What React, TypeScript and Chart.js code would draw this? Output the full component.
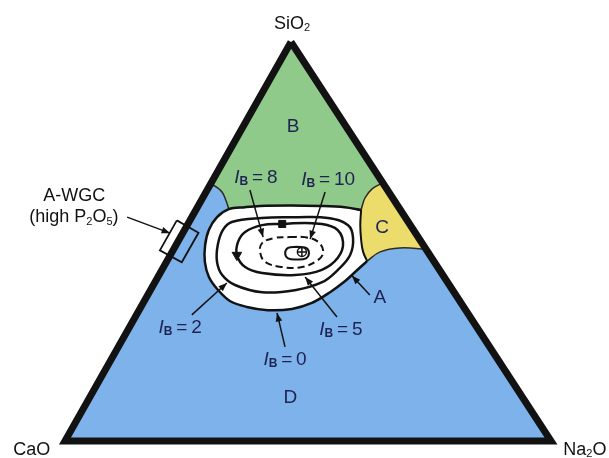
import { useEffect, useRef } from "react";
import { Chart, registerables } from "chart.js";

Chart.register(...registerables);

// Composition triples: [SiO2, CaO, Na2O] (wt %)
type Comp = [number, number, number];

const triangleCorners: Comp[] = [
  [100, 0, 0],
  [0, 100, 0],
  [0, 0, 100],
  [100, 0, 0],
];

// Region boundaries
const greenBlueBoundary: Comp[] = [
  [64.4, 35.6, 0], [63.7, 34.8, 1.5], [62.4, 34.3, 3.3], [60.4, 34.6, 5.0], [58.1, 35.2, 6.7],
];
const whiteTop: Comp[] = [
  [58.1, 35.2, 6.7], [58.6, 31.6, 9.8], [58.9, 28.4, 12.7], [59.0, 22.1, 18.9],
  [58.9, 16.0, 25.1], [58.6, 11.1, 30.3], [57.9, 8.1, 34.0],
];
const cGreenBoundary: Comp[] = [
  [64.7, 0, 35.3], [63.2, 3.0, 33.8], [60.9, 5.7, 33.4], [57.9, 8.1, 34.0],
];
const cWhiteBoundary: Comp[] = [
  [57.9, 8.1, 34.0], [54.1, 10.2, 35.6], [50.4, 12.1, 37.5], [47.4, 13.3, 39.3], [45.1, 13.7, 41.2],
];
const cBlueBoundary: Comp[] = [
  [45.1, 13.7, 41.2], [47.4, 9.9, 42.8], [48.4, 5.2, 46.4], [48.1, 0, 51.9],
];
const whiteBlueBoundary: Comp[] = [
  [45.1, 13.7, 41.2], [42.6, 17.3, 40.1], [40.1, 20.9, 39.0], [37.3, 25.5, 37.2],
  [34.6, 30.7, 34.7], [33.1, 35.6, 31.3], [32.8, 40.7, 26.5], [33.6, 44.6, 21.8],
  [35.1, 47.3, 17.6], [38.1, 48.3, 13.6], [41.1, 48.4, 10.5], [44.9, 47.2, 7.9],
  [49.1, 44.9, 6.0], [52.9, 42.1, 5.0], [56.1, 38.7, 5.2], [58.1, 35.2, 6.7],
];

// Iso-bioactivity contours
const ib2Contour: Comp[] = [
  [56.1, 22.6, 21.2], [55.9, 16.0, 28.1], [54.1, 12.8, 33.1], [50.9, 13.5, 35.6],
  [46.6, 16.4, 37.0], [42.9, 20.9, 36.2], [39.8, 25.8, 34.4], [37.8, 32.4, 29.7],
  [37.3, 39.5, 23.2], [39.1, 44.1, 16.8], [41.6, 45.4, 13.0], [44.9, 44.7, 10.4],
  [49.1, 42.2, 8.6], [52.9, 39.2, 7.9], [54.9, 36.3, 8.8], [55.9, 29.6, 14.5],
  [56.1, 22.6, 21.2],
];
const ib5Contour: Comp[] = [
  [54.4, 26.2, 19.4], [54.6, 20.0, 25.4], [53.4, 15.9, 30.7], [49.9, 16.1, 34.0],
  [45.9, 19.3, 34.8], [42.9, 24.2, 32.9], [41.6, 30.4, 28.0], [42.1, 36.9, 21.0],
  [43.6, 39.6, 16.8], [46.6, 39.7, 13.7], [49.9, 37.7, 12.4], [52.4, 34.9, 12.7],
  [54.1, 30.5, 15.4], [54.4, 26.2, 19.4],
];
const ib8Contour: Comp[] = [
  [51.1, 26.4, 22.5], [51.1, 23.3, 25.6], [49.9, 21.3, 28.9], [47.4, 21.6, 31.1],
  [45.4, 23.7, 31.0], [43.6, 27.9, 28.5], [43.6, 32.0, 24.4], [44.9, 34.8, 20.3],
  [47.4, 34.5, 18.1], [49.6, 32.9, 17.5], [50.9, 29.6, 19.5], [51.1, 26.4, 22.5],
];
const ib10Contour: Comp[] = [
  [48.7, 26.2, 25.1], [48.4, 24.5, 27.1], [47.1, 24.6, 28.3], [45.8, 25.9, 28.3],
  [45.5, 27.9, 26.6], [45.8, 29.6, 24.6], [47.1, 29.5, 23.4], [48.4, 28.2, 23.4],
  [48.7, 26.2, 25.1],
];
const ib10Point: Comp[] = [[47.4, 25.9, 26.7]];
const ib5SquareMarker: Comp[] = [[54.4, 26.2, 19.4]];
const ib5DirectionMarker: Comp[] = [[46.6, 39.7, 13.7]];

// A-WGC (high P2O5) box straddling the SiO2-CaO edge
const wgcBox: Comp[] = [
  [55.3, 47.4, -2.7], [52.2, 44.6, 3.2], [44.8, 52.0, 3.2], [47.8, 54.9, -2.7], [55.3, 47.4, -2.7],
];

// Pointer arrows: [tail, head]
const arrowI8: Comp[] = [[62.9, 28.3, 8.8], [51.1, 31.9, 17.0]];
const arrowI10: Comp[] = [[62.4, 13.1, 24.5], [50.6, 22.5, 26.9]];
const arrowI2: Comp[] = [[31.6, 57.0, 11.4], [39.6, 45.5, 14.9]];
const arrowI0: Comp[] = [[23.6, 42.1, 34.3], [32.1, 39.2, 28.7]];
const arrowI5: Comp[] = [[31.1, 27.4, 41.5], [41.1, 28.6, 30.3]];
const arrowA: Comp[] = [[36.6, 17.7, 45.7], [41.4, 18.8, 39.8]];
const arrowWGC: Comp[] = [[56.1, 57.2, -13.3], [52.1, 50.5, -2.6]];
const arrows = [arrowI8, arrowI10, arrowI2, arrowI0, arrowI5, arrowA, arrowWGC];

// ---- layout / style ----
const SKEW = 0.465; // horizontal position of the apex relative to the base (photographed triangle)
const toXY = (c: Comp) => ({ x: c[2] + SKEW * c[0], y: c[0] });

const BLUE = "#7db2eb";
const GREEN = "#8fca8a";
const YELLOW = "#ecdc6c";
const INK = "#121212";
const NAVY = "#1e2352";
const FONT = "'Liberation Sans', Arial, Helvetica, sans-serif";

type Seg = { t: string; sub?: boolean; italic?: boolean; bold?: boolean };
type Label = { at: Comp; segs: Seg[]; size: number; color: string };

const ib = (v: string): Seg[] => [
  { t: "I", italic: true },
  { t: "B", sub: true, bold: true },
  { t: "\u2009=\u2009" + v },
];

const labels: Label[] = [
  { at: [105.0, -2.9, -2.1], segs: [{ t: "SiO" }, { t: "2", sub: true }], size: 18, color: INK },
  { at: [-1.8, 107.8, -6.0], segs: [{ t: "CaO" }], size: 18, color: INK },
  { at: [-1.8, -6.0, 107.8], segs: [{ t: "Na" }, { t: "2", sub: true }, { t: "O" }], size: 18, color: INK },
  { at: [79.2, 10.7, 10.1], segs: [{ t: "B" }], size: 19, color: NAVY },
  { at: [53.9, 5.9, 40.2], segs: [{ t: "C" }], size: 19, color: NAVY },
  { at: [11.3, 47.6, 41.1], segs: [{ t: "D" }], size: 19, color: NAVY },
  { at: [36.3, 15.8, 47.9], segs: [{ t: "A" }], size: 19, color: NAVY },
  { at: [66.4, 25.2, 8.4], segs: ib("8"), size: 19, color: NAVY },
  { at: [65.9, 10.6, 23.5], segs: ib("10"), size: 19, color: NAVY },
  { at: [28.8, 60.9, 10.3], segs: ib("2"), size: 19, color: NAVY },
  { at: [28.3, 28.1, 43.6], segs: ib("5"), size: 19, color: NAVY },
  { at: [20.8, 43.6, 35.6], segs: ib("0"), size: 19, color: NAVY },
  { at: [61.7, 65.2, -26.8], segs: [{ t: "A-WGC" }], size: 18, color: INK },
  {
    at: [56.4, 68.0, -24.4],
    segs: [{ t: "(high P" }, { t: "2", sub: true }, { t: "O" }, { t: "5", sub: true }, { t: ")" }],
    size: 18,
    color: INK,
  },
];

function poly(points: Comp[], opts: Record<string, unknown>) {
  return {
    data: points.map(toXY),
    showLine: true,
    pointRadius: 0,
    pointHoverRadius: 0,
    borderColor: "rgba(0,0,0,0)",
    borderWidth: 1,
    tension: 0,
    fill: false,
    ...opts,
  };
}

function marker(points: Comp[], opts: Record<string, unknown>) {
  return {
    data: points.map(toXY),
    showLine: false,
    pointHoverRadius: 0,
    ...opts,
  };
}

export default function App() {
  const ref = useRef<HTMLCanvasElement | null>(null);

  useEffect(() => {
    if (!ref.current) return;

    const bFill: Comp[] = [
      [100, 0, 0],
      ...cGreenBoundary,
      ...whiteTop.slice().reverse().slice(1),
      ...greenBlueBoundary.slice().reverse().slice(1),
      [100, 0, 0],
    ];
    const cFill: Comp[] = [
      ...cGreenBoundary,
      ...cWhiteBoundary.slice(1),
      ...cBlueBoundary.slice(1),
      cGreenBoundary[0],
    ];
    const whiteFill: Comp[] = [...whiteTop, ...cWhiteBoundary.slice(1), ...whiteBlueBoundary.slice(1)];
    const whiteOutline: Comp[] = [...whiteBlueBoundary, ...whiteTop.slice(1)];

    const layers: any[] = [
      poly(triangleCorners, { fill: "shape", backgroundColor: BLUE }),
      poly(bFill, { fill: "shape", backgroundColor: GREEN }),
      poly(cFill, { fill: "shape", backgroundColor: YELLOW }),
      poly(whiteFill, { fill: "shape", backgroundColor: "#ffffff" }),
      poly(greenBlueBoundary, { borderColor: "#2b2b2b", borderWidth: 1.5, tension: 0.4 }),
      poly(cGreenBoundary, { borderColor: "#2b2b2b", borderWidth: 1.5, tension: 0.4 }),
      poly(cBlueBoundary, { borderColor: "#2b2b2b", borderWidth: 1.5, tension: 0.4 }),
      poly(cWhiteBoundary, { borderColor: INK, borderWidth: 2, tension: 0.4 }),
      poly(whiteOutline, { borderColor: INK, borderWidth: 2.5, tension: 0.35 }),
      poly(ib2Contour, { borderColor: INK, borderWidth: 2.5, tension: 0.4 }),
      poly(ib5Contour, { borderColor: INK, borderWidth: 2.5, tension: 0.4 }),
      poly(ib8Contour, { borderColor: INK, borderWidth: 2, tension: 0.4, borderDash: [7, 4] }),
      poly(ib10Contour, { borderColor: INK, borderWidth: 2, tension: 0.4 }),
      ...arrows.map((a) => poly(a, { borderColor: INK, borderWidth: 1.5 })),
      poly(triangleCorners, { borderColor: INK, borderWidth: 7, borderJoinStyle: "miter" }),
      poly(wgcBox, { borderColor: INK, borderWidth: 1.8, borderJoinStyle: "miter" }),
      marker(ib10Point, { pointStyle: "circle", pointRadius: 4.5, backgroundColor: "#fff", borderColor: INK, borderWidth: 1.5 }),
      marker(ib10Point, { pointStyle: "cross", pointRadius: 4, borderColor: INK, borderWidth: 1.5 }),
      marker(ib5SquareMarker, { pointStyle: "rect", pointRadius: 5, backgroundColor: INK, borderColor: INK, borderWidth: 1 }),
      marker(ib5DirectionMarker, { pointStyle: "triangle", pointRadius: 5.5, pointRotation: 180, backgroundColor: INK, borderColor: INK, borderWidth: 1 }),
    ];
    const n = layers.length;
    layers.forEach((d, i) => (d.order = n - i));

    const arrowHeads = {
      id: "arrowHeads",
      afterDatasetsDraw(chart: any) {
        const ctx = chart.ctx;
        const xs = chart.scales.x;
        const ys = chart.scales.y;
        ctx.save();
        ctx.fillStyle = INK;
        for (const a of arrows) {
          const t = toXY(a[0]);
          const h = toXY(a[1]);
          const tx = xs.getPixelForValue(t.x), ty = ys.getPixelForValue(t.y);
          const hx = xs.getPixelForValue(h.x), hy = ys.getPixelForValue(h.y);
          const ang = Math.atan2(hy - ty, hx - tx);
          const L = 8.5, W = 3.3;
          const c = Math.cos(ang), s = Math.sin(ang);
          ctx.beginPath();
          ctx.moveTo(hx, hy);
          ctx.lineTo(hx - L * c + W * s, hy - L * s - W * c);
          ctx.lineTo(hx - L * c - W * s, hy - L * s + W * c);
          ctx.closePath();
          ctx.fill();
        }
        ctx.restore();
      },
    };

    const textLabels = {
      id: "textLabels",
      afterDraw(chart: any) {
        const ctx = chart.ctx;
        const xs = chart.scales.x;
        const ys = chart.scales.y;
        ctx.save();
        ctx.textAlign = "left";
        ctx.textBaseline = "alphabetic";
        for (const lb of labels) {
          const p = toXY(lb.at);
          const cx = xs.getPixelForValue(p.x);
          const cy = ys.getPixelForValue(p.y);
          const fontOf = (s: Seg) =>
            `${s.italic ? "italic " : ""}${s.bold ? "bold " : ""}${s.sub ? Math.round(lb.size * 0.62) : lb.size}px ${FONT}`;
          let w = 0;
          for (const s of lb.segs) {
            ctx.font = fontOf(s);
            w += ctx.measureText(s.t).width;
          }
          let x = cx - w / 2;
          const base = cy + lb.size * 0.358;
          ctx.fillStyle = lb.color;
          for (const s of lb.segs) {
            ctx.font = fontOf(s);
            ctx.fillText(s.t, x, s.sub ? base + lb.size * 0.12 : base);
            x += ctx.measureText(s.t).width;
          }
        }
        ctx.restore();
      },
    };

    const chart = new Chart(ref.current, {
      type: "scatter",
      data: { datasets: layers },
      options: {
        animation: false,
        responsive: false,
        events: [],
        layout: { padding: 0, autoPadding: false } as any,
        plugins: {
          legend: { display: false },
          tooltip: { enabled: false },
          title: { display: false },
        },
        scales: {
          x: { type: "linear", min: -13.37, max: 111.93, display: false },
          y: { type: "linear", min: -4.26, max: 110.53, display: false },
        },
      },
      plugins: [arrowHeads, textLabels],
    });

    return () => chart.destroy();
  }, []);

  return (
    <div style={{ position: "absolute", left: 0, top: 0, width: 609, height: 458, background: "#fff" }}>
      <canvas ref={ref} width={609} height={458} style={{ display: "block" }} />
    </div>
  );
}
